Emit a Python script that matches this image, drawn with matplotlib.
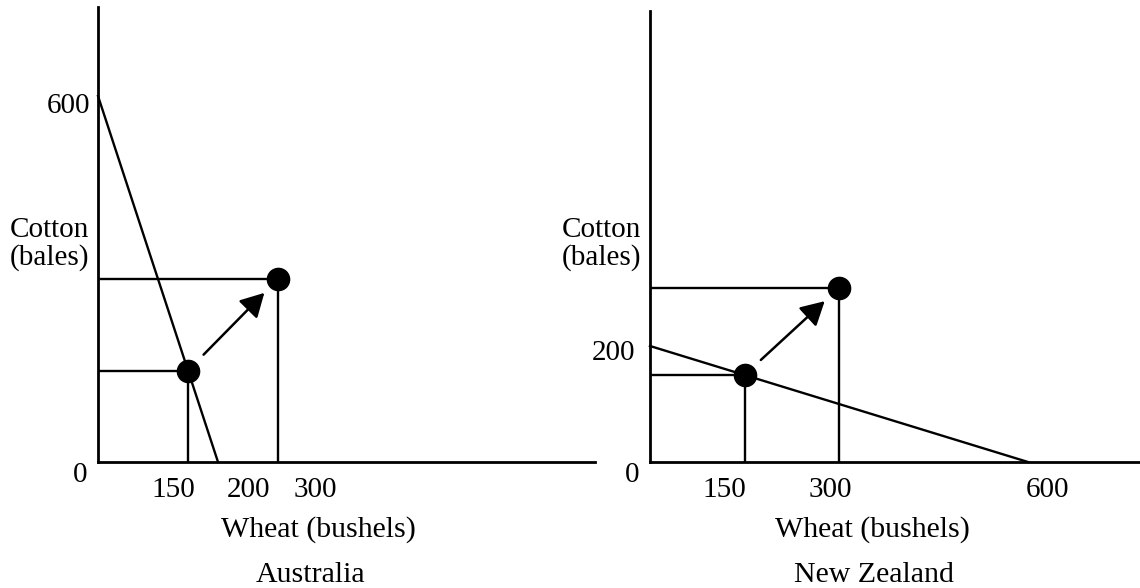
import matplotlib.pyplot as plt

plt.rcParams['font.family'] = ['Liberation Serif', 'DejaVu Serif']

W, H, DPI = 1140, 588, 100

# Australia: can make 600 bales of cotton or 200 bushels of wheat
aus_ppf_wheat = [0, 200]
aus_ppf_cotton = [600, 0]
aus_before = (150, 150)
aus_after = (300, 300)
aus_xticks = [150, 200, 300]
aus_yticks = [600]

# New Zealand: 200 bales of cotton or 600 bushels of wheat
nz_ppf_wheat = [0, 600]
nz_ppf_cotton = [200, 0]
nz_before = (150, 150)
nz_after = (300, 300)
nz_xticks = [150, 300, 600]
nz_yticks = [200]

x_label = 'Wheat (bushels)'
y_label = ['Cotton', '(bales)']


def fx(x):
    return x / W


def fy(y):
    return 1 - y / H


def pt(px):
    return px * 72 / DPI


fig = plt.figure(figsize=(W / DPI, H / DPI), dpi=DPI)


def panel(box, xmax, ymax, wheat, cotton, before, after, xticks, xoffs,
          yticks, yoffs, title, title_x, wheat_x):
    l, t, r, b = box
    ax = fig.add_axes([fx(l), fy(b), (r - l) / W, (b - t) / H])
    ax.set_xlim(0, xmax)
    ax.set_ylim(0, ymax)
    ax.spines['top'].set_visible(False)
    ax.spines['right'].set_visible(False)
    for s in ['left', 'bottom']:
        ax.spines[s].set_linewidth(2.0)
    ax.set_xticks([])
    ax.set_yticks([])

    ax.plot(wheat, cotton, color='black', lw=1.7, clip_on=False)
    for p in (before, after):
        ax.plot([0, p[0]], [p[1], p[1]], color='black', lw=1.7)
        ax.plot([p[0], p[0]], [0, p[1]], color='black', lw=1.7)
    ax.plot([before[0], after[0]], [before[1], after[1]], 'o',
            color='black', ms=16, zorder=4)
    ax.annotate('', xy=after, xytext=before,
                arrowprops=dict(arrowstyle='-|>,head_length=0.4,head_width=0.22',
                                mutation_scale=36, lw=1.8, color='black',
                                shrinkA=16, shrinkB=14))

    for v, dx in zip(xticks, xoffs):
        ax.annotate(str(v), xy=(v, 0), xytext=(pt(dx), pt(-35)),
                    textcoords='offset points', ha='center', va='baseline',
                    fontsize=21)
    for v, (dx, dy) in zip(yticks, yoffs):
        ax.annotate(str(v), xy=(0, v), xytext=(pt(dx), pt(dy)),
                    textcoords='offset points', ha='right', va='baseline',
                    fontsize=21)
    ax.annotate('0', xy=(0, 0), xytext=(pt(-18), pt(-20)),
                textcoords='offset points', ha='center', va='baseline',
                fontsize=21)

    fig.text(fx(l - 9), fy(237), y_label[0], ha='right', va='baseline', fontsize=21)
    fig.text(fx(l - 9), fy(265), y_label[1], ha='right', va='baseline', fontsize=21)
    fig.text(fx(wheat_x), fy(537), x_label, ha='center', va='baseline', fontsize=21.5)
    fig.text(fx(title_x), fy(582), title, ha='center', va='baseline', fontsize=21.5)
    return ax


panel((98, 7, 595, 462), 497 / 0.6, 455 / 0.61,
      aus_ppf_wheat, aus_ppf_cotton, aus_before, aus_after,
      aus_xticks, [-15, 31, 37], aus_yticks, [(-8, -17)],
      'Australia', 311, 318)

panel((650, 11, 1145, 462), 495 / 0.63, 451 / 0.58,
      nz_ppf_wheat, nz_ppf_cotton, nz_before, nz_after,
      nz_xticks, [-20, -9, 19], nz_yticks, [(-15, -14)],
      'New Zealand', 874, 872)

fig.savefig('out.png', dpi=DPI)
